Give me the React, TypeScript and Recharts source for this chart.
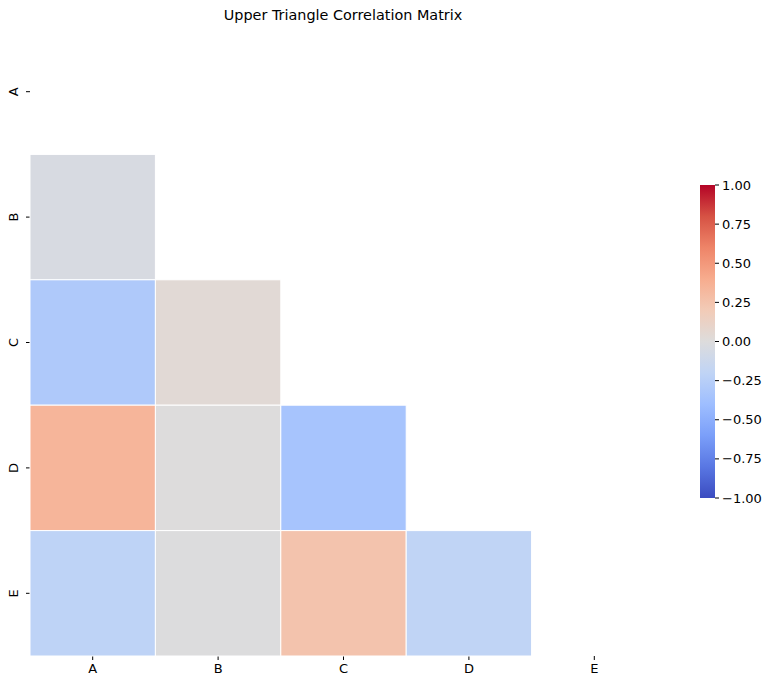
import React from 'react';
import {
  ScatterChart,
  Scatter,
  XAxis,
  YAxis,
  BarChart,
  Bar,
} from 'recharts';

const labels = ['A', 'B', 'C', 'D', 'E'];
// lower triangle of the correlation matrix, row by row (diagonal and above are masked)
const corrB = [-0.04];
const corrC = [-0.3, 0.04];
const corrD = [0.34, 0.0, -0.35];
const corrE = [-0.21, -0.01, 0.25, -0.2];
const colorbarTicks = [-1, -0.75, -0.5, -0.25, 0, 0.25, 0.5, 0.75, 1];

// matplotlib coolwarm, sampled at 11 points
const coolwarm = [
  '#3b4cc0', '#5977e3', '#7b9ff9', '#9ebeff', '#c0d4f5', '#dddcdc',
  '#f2cbb7', '#f7ac8e', '#ee8468', '#d65244', '#b40426',
];

const W = 768;
const H = 686;
const MARGIN = { top: 29, right: 111, bottom: 0, left: 0 };
const Y_AXIS_W = 30;
const X_AXIS_H = 30;
const plotW = W - MARGIN.left - MARGIN.right - Y_AXIS_W;
const plotH = H - MARGIN.top - MARGIN.bottom - X_AXIS_H;
const cellW = plotW / labels.length;
const cellH = plotH / labels.length;

const hexToRgb = (h: string) => [1, 3, 5].map((i) => parseInt(h.slice(i, i + 2), 16));

function colorFor(v: number) {
  const t = Math.min(1, Math.max(0, (v + 1) / 2)) * (coolwarm.length - 1);
  const i = Math.min(coolwarm.length - 2, Math.floor(t));
  const f = t - i;
  const a = hexToRgb(coolwarm[i]);
  const b = hexToRgb(coolwarm[i + 1]);
  const c = a.map((x, k) => Math.round(x + (b[k] - x) * f));
  return `rgb(${c[0]},${c[1]},${c[2]})`;
}

const rows = [[], corrB, corrC, corrD, corrE];
const cells = rows.flatMap((row, r) =>
  row.map((value, c) => ({ x: c + 0.5, y: r + 0.5, value }))
);
const centers = labels.map((_, i) => i + 0.5);

function CellShape(props: any) {
  const { cx, cy, payload } = props;
  return (
    <rect
      x={cx - cellW / 2}
      y={cy - cellH / 2}
      width={cellW}
      height={cellH}
      fill={colorFor(payload.value)}
      stroke="#fff"
      strokeWidth={1}
    />
  );
}

function YTick({ x, y, payload }: any) {
  return (
    <g transform={`translate(${x - 6},${y})`}>
      <text transform="rotate(-90)" textAnchor="middle" fontSize={13} fill="#000">
        {labels[Math.floor(payload.value)]}
      </text>
    </g>
  );
}

const fmtTick = (v: number) => (v < 0 ? '\u2212' + Math.abs(v).toFixed(2) : v.toFixed(2));

export default function App() {
  return (
    <div
      style={{
        position: 'absolute',
        left: 0,
        top: 0,
        width: W,
        height: H,
        background: '#fff',
        fontFamily: '"DejaVu Sans", sans-serif',
      }}
    >
      <div
        style={{
          position: 'absolute',
          left: 0,
          top: 7,
          width: 686,
          textAlign: 'center',
          fontSize: 14.4,
          color: '#000',
        }}
      >
        Upper Triangle Correlation Matrix
      </div>
      <div style={{ position: 'absolute', left: 0, top: 0 }}>
        <ScatterChart width={W} height={H} margin={MARGIN}>
          <XAxis
            type="number"
            dataKey="x"
            domain={[0, 5]}
            ticks={centers}
            interval={0}
            tickFormatter={(v: number) => labels[Math.floor(v)]}
            axisLine={false}
            tickLine={{ stroke: '#000' }}
            tickSize={4}
            tickMargin={4}
            height={X_AXIS_H}
            tick={{ fontSize: 13, fill: '#000' }}
          />
          <YAxis
            type="number"
            dataKey="y"
            domain={[0, 5]}
            reversed
            ticks={centers}
            interval={0}
            axisLine={false}
            tickLine={{ stroke: '#000' }}
            tickSize={4}
            tickMargin={2}
            width={Y_AXIS_W}
            tick={<YTick />}
          />
          <Scatter data={cells} shape={<CellShape />} isAnimationActive={false} />
        </ScatterChart>
      </div>
      <div style={{ position: 'absolute', left: 700, top: 0 }}>
        <BarChart
          width={68}
          height={H}
          data={[{ name: 'cb', range: [-1, 1] }]}
          margin={{ top: 185, right: 0, bottom: 188, left: 0 }}
          barCategoryGap={0}
        >
          <defs>
            <linearGradient id="cbGrad" x1="0" y1="0" x2="0" y2="1">
              {[...coolwarm].reverse().map((c, i) => (
                <stop key={i} offset={i / (coolwarm.length - 1)} stopColor={c} />
              ))}
            </linearGradient>
          </defs>
          <XAxis dataKey="name" hide />
          <YAxis
            orientation="right"
            type="number"
            domain={[-1, 1]}
            ticks={colorbarTicks}
            interval={0}
            tickFormatter={fmtTick}
            axisLine={false}
            tickLine={{ stroke: '#000' }}
            tickSize={4}
            tickMargin={3}
            width={53}
            tick={{ fontSize: 13, fill: '#000' }}
          />
          <Bar dataKey="range" fill="url(#cbGrad)" isAnimationActive={false} />
        </BarChart>
      </div>
    </div>
  );
}
